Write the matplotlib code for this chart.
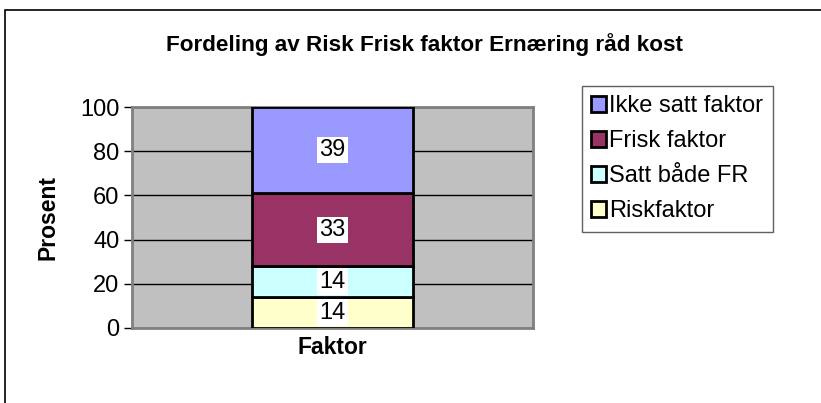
import matplotlib.pyplot as plt
from matplotlib.patches import Rectangle

# stacked from bottom to top
series = ['Riskfaktor', 'Satt både FR', 'Frisk faktor', 'Ikke satt faktor']
values = [14, 14, 33, 39]
colors = ['#FFFFCC', '#CCFFFF', '#993366', '#9999FF']
category = 'Faktor'
yticks = [0, 20, 40, 60, 80, 100]

plt.rcParams['font.family'] = ['Liberation Sans', 'DejaVu Sans']

W, H = 821, 403
fig = plt.figure(figsize=(W / 100, H / 100), dpi=100)

# outer chart border (only left/top visible in the reference)
fig.patches.append(Rectangle((5 / W, -0.1), 1.2, 1 - 10 / H + 0.1,
                             transform=fig.transFigure, fill=False,
                             edgecolor='black', linewidth=1.2))

ax = fig.add_axes([132 / W, 1 - 328 / H, 401 / W, 221 / H])
ax.set_facecolor('#C0C0C0')
ax.set_xlim(-0.5, 0.5)
ax.set_ylim(0, 100)

bottom = 0
bars = []
for name, v, c in zip(series, values, colors):
    b = ax.bar(0, v, width=0.4, bottom=bottom, color=c, edgecolor='black',
               linewidth=2, label=name, zorder=3)
    bars.append(b)
    ax.text(0, bottom + v / 2, str(v), ha='center', va='center', fontsize=17,
            zorder=4, bbox=dict(facecolor='white', edgecolor='none', pad=1.5))
    bottom += v

ax.set_yticks(yticks)
ax.tick_params(axis='y', labelsize=17, length=6, width=1, color='black', pad=3)
ax.set_xticks([])
ax.grid(axis='y', color='black', linewidth=1, zorder=1)
for s in ax.spines.values():
    s.set_color('#808080')
    s.set_linewidth(2)
    s.set_zorder(2)

ax.set_ylabel('Prosent', fontsize=16.5, fontweight='bold')
ax.yaxis.set_label_coords(-0.18, 0.5)
ax.set_xlabel(category, fontsize=16.5, fontweight='bold', labelpad=6)

fig.text(424 / W, 1 - 45 / H, 'Fordeling av Risk Frisk faktor Ernæring råd kost',
         ha='center', va='center', fontsize=16.2, fontweight='bold')

leg = fig.legend(handles=[b[0] for b in bars[::-1]], labels=series[::-1],
                 loc='upper left', bbox_to_anchor=(582 / W, 1 - 86 / H),
                 fontsize=17, frameon=True, fancybox=False, framealpha=1,
                 edgecolor='#606060', handlelength=0.6, handleheight=0.7,
                 handletextpad=0.15, labelspacing=0.55, borderpad=0.4,
                 borderaxespad=0)
leg.get_frame().set_linewidth(1)

fig.savefig('out.png', dpi=100)
